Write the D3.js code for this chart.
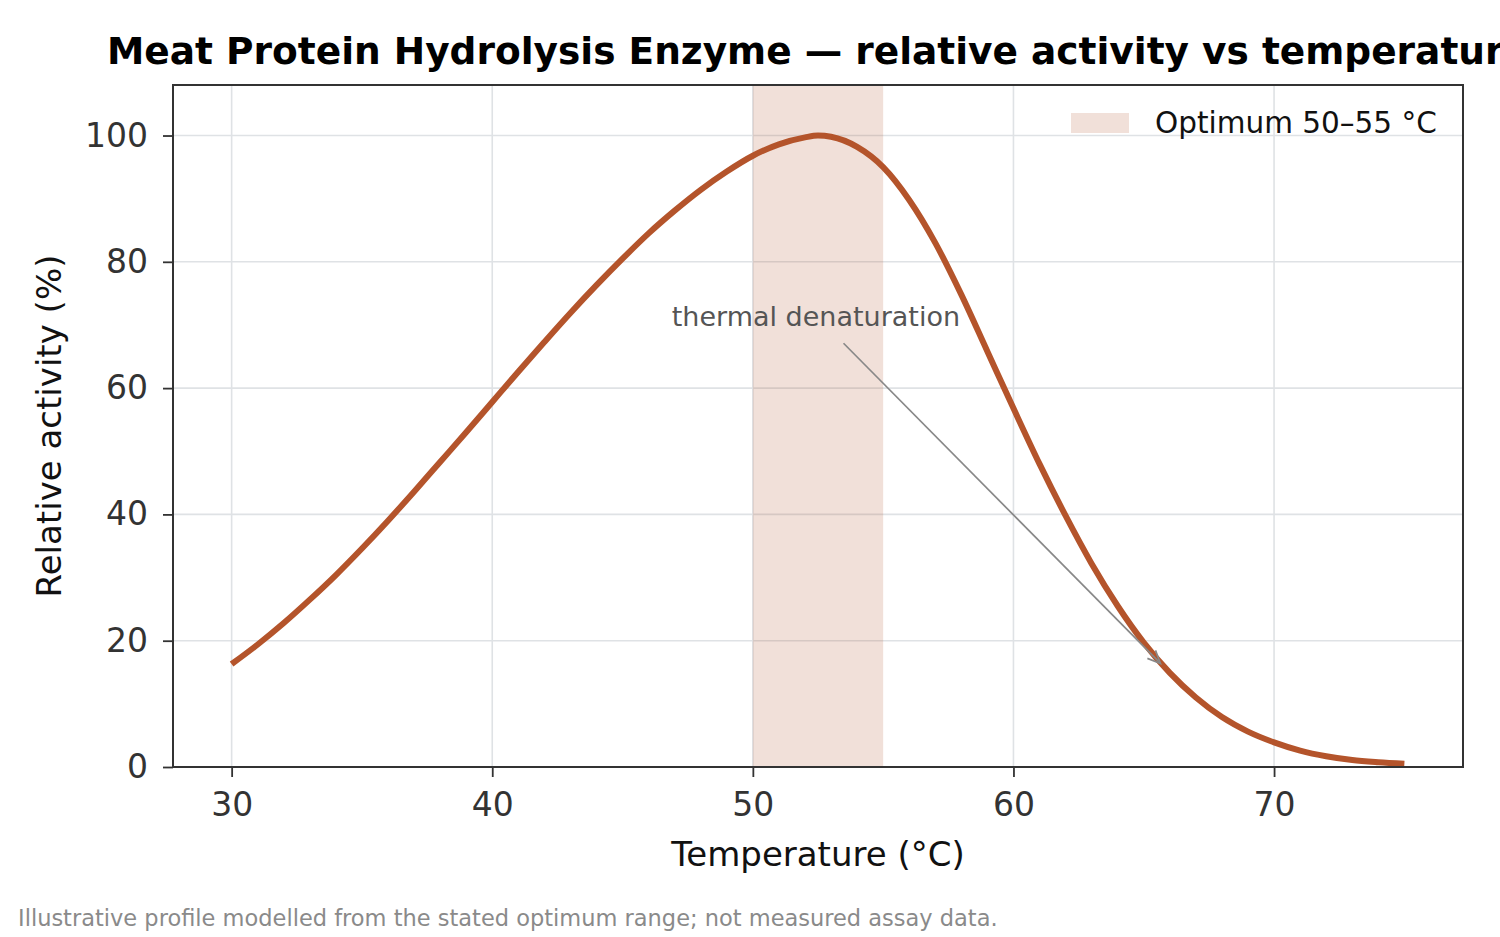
<!DOCTYPE html>
<html>
<head>
<meta charset="utf-8">
<script src="https://cdn.jsdelivr.net/npm/d3@7/dist/d3.min.js"></script>
<style>
  body { margin: 0; background: #fff; overflow: hidden; }
  svg { display: block; font-family: "DejaVu Sans", sans-serif; }
</style>
</head>
<body>
<script>
// temperature (°C) and relative activity (%)
const temps = [30, 31, 32, 33, 34, 35, 36, 37, 38, 39, 40, 41, 42, 43, 44, 45, 46, 47, 48, 49,
  50, 51, 52, 52.5, 53, 54, 55, 56, 57, 58, 59, 60, 61, 62, 63, 64, 65, 66, 67, 68, 69, 70,
  71, 72, 73, 74, 75];
const activity = [16.3, 19.4, 22.8, 26.5, 30.4, 34.6, 39.0, 43.6, 48.3, 53.0, 57.8, 62.6, 67.3, 71.9, 76.3, 80.5, 84.5, 88.1, 91.4, 94.3,
  96.8, 98.6, 99.7, 100, 99.8, 98.2, 95.0, 89.8, 83.0, 74.8, 65.8, 56.8, 48.0, 39.8, 32.2, 25.5, 19.7, 14.9, 11.0, 7.9, 5.6, 3.9,
  2.6, 1.7, 1.1, 0.75, 0.5];
const xTicks = [30, 40, 50, 60, 70];
const yTicks = [0, 20, 40, 60, 80, 100];
const optimum = [50, 55];
const legendLabel = "Optimum 50–55 °C";
const noteText = "thermal denaturation";
const noteTextAt = [52.42, 69.9];
const noteFrom = [53.48, 67.1];
const noteTo = [65.64, 16.4];

const W = 1500, H = 937;
const margin = { top: 85, right: 37, bottom: 170, left: 173 };
const width = W - margin.left - margin.right;
const height = H - margin.top - margin.bottom;

const lineColor = "#b4542b";

const svg = d3.select("body").append("svg")
  .attr("width", W)
  .attr("height", H);

svg.append("rect").attr("width", W).attr("height", H).attr("fill", "#fff");

const g = svg.append("g")
  .attr("transform", "translate(" + margin.left + "," + margin.top + ")");

const x = d3.scaleLinear().domain([27.75, 77.25]).range([0, width]);
const y = d3.scaleLinear().domain([0, 108]).range([height, 0]);

// grid
g.append("g").selectAll("line").data(xTicks).enter().append("line")
  .attr("x1", d => x(d)).attr("x2", d => x(d))
  .attr("y1", 0).attr("y2", height)
  .attr("stroke", "#dfe2e5").attr("stroke-width", 1.6);
g.append("g").selectAll("line").data(yTicks).enter().append("line")
  .attr("x1", 0).attr("x2", width)
  .attr("y1", d => y(d)).attr("y2", d => y(d))
  .attr("stroke", "#dfe2e5").attr("stroke-width", 1.6);

// optimum band
g.append("rect")
  .attr("x", x(optimum[0]))
  .attr("width", x(optimum[1]) - x(optimum[0]))
  .attr("y", 0)
  .attr("height", height)
  .attr("fill", lineColor)
  .attr("fill-opacity", 0.18);

// curve
const data = temps.map((t, i) => ({ t: t, a: activity[i] }));
const line = d3.line()
  .x(d => x(d.t))
  .y(d => y(d.a))
  .curve(d3.curveMonotoneX);

g.append("path")
  .datum(data)
  .attr("fill", "none")
  .attr("stroke", lineColor)
  .attr("stroke-width", 6)
  .attr("stroke-linejoin", "round")
  .attr("d", line);

// annotation
g.append("text")
  .attr("x", x(noteTextAt[0]))
  .attr("y", y(noteTextAt[1]))
  .attr("text-anchor", "middle")
  .attr("font-size", 27)
  .attr("fill", "#555")
  .text(noteText);

const ax1 = x(noteFrom[0]), ay1 = y(noteFrom[1]);
const ax2 = x(noteTo[0]), ay2 = y(noteTo[1]);
g.append("line")
  .attr("x1", ax1).attr("y1", ay1).attr("x2", ax2).attr("y2", ay2)
  .attr("stroke", "#888").attr("stroke-width", 1.7);
const ang = Math.atan2(ay2 - ay1, ax2 - ax1);
const headLen = 14, headW = 0.42;
const head = [
  [ax2 - headLen * Math.cos(ang - headW), ay2 - headLen * Math.sin(ang - headW)],
  [ax2, ay2],
  [ax2 - headLen * Math.cos(ang + headW), ay2 - headLen * Math.sin(ang + headW)]
];
g.append("path")
  .attr("d", d3.line()(head))
  .attr("fill", "none")
  .attr("stroke", "#888")
  .attr("stroke-width", 1.7);

// axes
const xAxis = g.append("g")
  .attr("transform", "translate(0," + height + ")")
  .call(d3.axisBottom(x).tickValues(xTicks).tickSize(10).tickPadding(16).tickFormat(d3.format("d")));
const yAxis = g.append("g")
  .call(d3.axisLeft(y).tickValues(yTicks).tickSize(10).tickPadding(15).tickFormat(d3.format("d")));

[xAxis, yAxis].forEach(a => {
  a.select(".domain").remove();
  a.selectAll(".tick line").attr("stroke", "#333").attr("stroke-width", 1.8);
  a.selectAll(".tick text")
    .attr("font-size", 33)
    .attr("font-family", "DejaVu Sans")
    .attr("fill", "#333");
});

// frame
g.append("rect")
  .attr("width", width).attr("height", height)
  .attr("fill", "none")
  .attr("stroke", "#333")
  .attr("stroke-width", 2);

// legend
const legend = g.append("g")
  .attr("transform", "translate(" + (1071 - margin.left) + "," + (113 - margin.top) + ")");
legend.append("rect")
  .attr("width", 58).attr("height", 20)
  .attr("fill", lineColor).attr("fill-opacity", 0.18);
legend.append("text")
  .attr("x", 84).attr("y", 20)
  .attr("font-size", 29.5)
  .attr("fill", "#111")
  .text(legendLabel);

// labels
svg.append("text")
  .attr("x", margin.left + width / 2)
  .attr("y", 866)
  .attr("text-anchor", "middle")
  .attr("font-size", 34)
  .attr("fill", "#111")
  .text("Temperature (°C)");

svg.append("text")
  .attr("transform", "translate(61," + (margin.top + height / 2) + ") rotate(-90)")
  .attr("text-anchor", "middle")
  .attr("font-size", 34)
  .attr("fill", "#111")
  .text("Relative activity (%)");

// the reference title runs past the right edge; kept the same
svg.append("text")
  .attr("x", 107)
  .attr("y", 64)
  .attr("font-size", 37.5)
  .attr("font-weight", "bold")
  .attr("fill", "#000")
  .text("Meat Protein Hydrolysis Enzyme — relative activity vs temperature");

svg.append("text")
  .attr("x", 18)
  .attr("y", 926)
  .attr("font-size", 22.5)
  .attr("fill", "#8a8a8a")
  .text("Illustrative profile modelled from the stated optimum range; not measured assay data.");
</script>
</body>
</html>
